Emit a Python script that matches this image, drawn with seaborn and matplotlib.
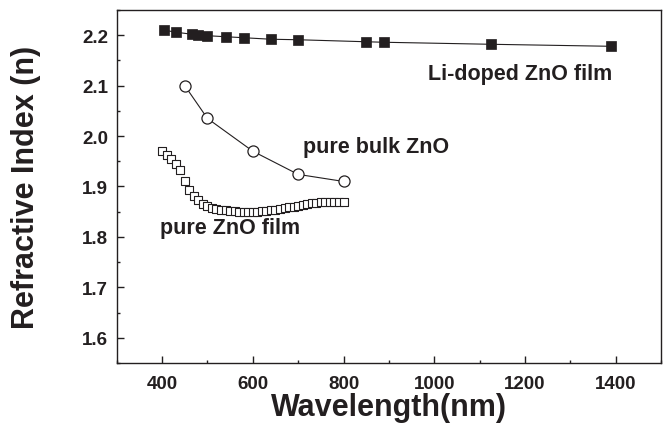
import numpy as np
import pandas as pd
import matplotlib
matplotlib.use("Agg")
import matplotlib.pyplot as plt
from matplotlib.ticker import MultipleLocator
import seaborn as sns

# --- data ---
li_wl = [405, 430, 465, 480, 500, 540, 580, 640, 700, 850, 890, 1125, 1390]
li_n = [2.210, 2.206, 2.202, 2.200, 2.199, 2.197, 2.195, 2.192, 2.191,
        2.187, 2.186, 2.182, 2.178]

bulk_wl = [450, 500, 600, 700, 800]
bulk_n = [2.100, 2.035, 1.970, 1.924, 1.910]

film_wl = [400, 410, 420, 430, 440, 450, 460, 470, 480, 490,
           500, 510, 520, 530, 540, 550, 560, 570, 580, 590,
           600, 610, 620, 630, 640, 650, 660, 670, 680, 690,
           700, 710, 720, 730, 740, 750, 760, 770, 780, 790, 800]
film_n = [1.970, 1.962, 1.954, 1.945, 1.932, 1.910, 1.893, 1.882, 1.873, 1.866,
          1.861, 1.858, 1.856, 1.854, 1.853, 1.852, 1.851, 1.850, 1.850, 1.850,
          1.850, 1.850, 1.851, 1.852, 1.853, 1.854, 1.856, 1.857, 1.859, 1.860,
          1.862, 1.864, 1.866, 1.867, 1.868, 1.869, 1.870, 1.870, 1.870, 1.870,
          1.870]

INK = "#231f20"

sns.set_theme(style="ticks")
plt.rcParams["font.family"] = ["Liberation Sans", "DejaVu Sans"]
plt.rcParams["font.weight"] = "bold"
plt.rcParams["axes.linewidth"] = 1.0
plt.rcParams["axes.edgecolor"] = INK

fig = plt.figure(figsize=(6.65, 4.31), dpi=100)
ax = fig.add_axes([0.1755, 0.1555, 0.8185, 0.819])

li = pd.DataFrame({"wl": li_wl, "n": li_n})
bulk = pd.DataFrame({"wl": bulk_wl, "n": bulk_n})
film = pd.DataFrame({"wl": film_wl, "n": film_n})

sns.lineplot(data=li, x="wl", y="n", ax=ax, color=INK, linewidth=0.8,
             marker="s", markersize=7, markerfacecolor=INK,
             markeredgecolor=INK, markeredgewidth=0.5)
sns.lineplot(data=bulk, x="wl", y="n", ax=ax, color=INK, linewidth=0.8,
             marker="o", markersize=8, markerfacecolor="white",
             markeredgecolor=INK, markeredgewidth=0.9)
sns.scatterplot(data=film, x="wl", y="n", ax=ax, marker="s", s=34,
                facecolor="white", edgecolor=INK, linewidth=0.8, zorder=3)

# annotations
ax.text(1392, 2.114, "Li-doped ZnO film", ha="right", va="baseline",
        fontsize=15.5, fontweight="bold", color=INK)
ax.text(710, 1.969, "pure bulk ZnO", ha="left", va="baseline",
        fontsize=15.5, fontweight="bold", color=INK)
ax.text(396, 1.808, "pure ZnO film", ha="left", va="baseline",
        fontsize=15.5, fontweight="bold", color=INK)

ax.set_xlim(300, 1500)
ax.set_ylim(1.55, 2.25)
ax.xaxis.set_major_locator(MultipleLocator(200))
ax.xaxis.set_minor_locator(MultipleLocator(100))
ax.yaxis.set_major_locator(MultipleLocator(0.1))
ax.yaxis.set_minor_locator(MultipleLocator(0.05))
ax.set_xticks([400, 600, 800, 1000, 1200, 1400])
ax.set_yticks([1.6, 1.7, 1.8, 1.9, 2.0, 2.1, 2.2])
ax.set_yticklabels(["1.6", "1.7", "1.8", "1.9", "2.0", "2.1", "2.2"])

ax.tick_params(axis="both", which="major", direction="in", length=5,
               width=1.0, color=INK, labelsize=13.5, labelcolor=INK)
ax.tick_params(axis="both", which="minor", direction="in", length=2.5,
               width=1.0, color=INK)
ax.tick_params(axis="x", which="major", pad=9)
ax.tick_params(axis="y", which="major", pad=6)
for lab in ax.get_xticklabels() + ax.get_yticklabels():
    lab.set_fontweight("bold")

ax.set_xlabel("Wavelength(nm)", fontsize=22, fontweight="bold", color=INK)
ax.set_ylabel("Refractive Index (n)", fontsize=22, fontweight="bold", color=INK)
ax.xaxis.set_label_coords(0.5, -0.125)
ax.xaxis.label.set_verticalalignment("center")
ax.yaxis.set_label_coords(-0.167, 0.5)
ax.yaxis.label.set_verticalalignment("center")

fig.savefig("out.png", dpi=100)
